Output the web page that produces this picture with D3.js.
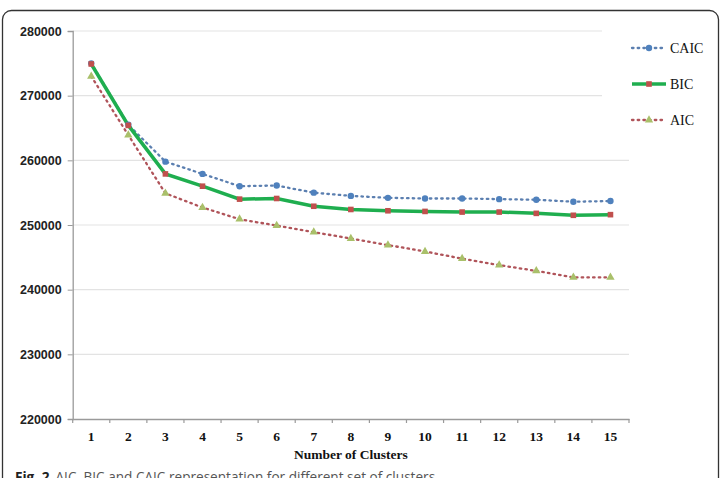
<!DOCTYPE html>
<html><head><meta charset="utf-8">
<script src="https://cdn.jsdelivr.net/npm/d3@7"></script>
<style>html,body{margin:0;padding:0;background:#fff;overflow:hidden}</style>
</head><body>
<svg id="c" width="721" height="478"></svg>
<script>
const clusters = [1,2,3,4,5,6,7,8,9,10,11,12,13,14,15];
const caic = [275000,265500,259800,257900,256000,256100,255000,254500,254200,254100,254100,254000,253900,253600,253700];
const bic  = [274900,265400,257900,256000,254000,254100,252900,252400,252200,252100,252000,252000,251800,251500,251600];
const aic  = [273000,263900,254900,252700,250900,249900,248900,247900,246900,245900,244800,243800,242900,241900,241900];
const yTicks = [220000,230000,240000,250000,260000,270000,280000];
const seriesNames = ["CAIC","BIC","AIC"];

(function(){
const svg = d3.select("#c");
// frame
svg.append("rect").attr("x",2.5).attr("y",10.5).attr("width",716).attr("height",490)
  .attr("rx",9).attr("fill","#fff").attr("stroke","#333").attr("stroke-width",1.3);

const pL = 72.7, pR = 629, pT = 31, pB = 419;
const x = d3.scaleBand().domain(clusters).range([pL,pR]);
const y = d3.scaleLinear().domain([220000,280000]).range([pB,pT]);
const cx = d => x(d) + x.bandwidth()/2;

// gridlines
svg.append("g").selectAll("line").data(yTicks.slice(1)).join("line")
  .attr("x1",pL).attr("x2",pR).attr("y1",d=>y(d)).attr("y2",d=>y(d))
  .attr("stroke","#e3e3e3").attr("stroke-width",1.2);

// y axis
const yAxis = svg.append("g").attr("transform",`translate(${pL},0)`)
  .call(d3.axisLeft(y).tickValues(yTicks).tickSize(5).tickPadding(6).tickFormat(d3.format("d")));
yAxis.select(".domain").attr("stroke","#9a9a9a").attr("stroke-width",1.3);
yAxis.selectAll(".tick line").attr("stroke","#9a9a9a");
yAxis.selectAll("text").attr("font-family","Liberation Sans").attr("font-weight","bold")
  .attr("font-size",12.5).attr("fill","#222");

// x axis
const xAxis = svg.append("g").attr("transform",`translate(0,${pB})`)
  .call(d3.axisBottom(x).tickSize(0).tickPadding(12));
xAxis.select(".domain").attr("stroke","#9a9a9a").attr("stroke-width",1.3);
xAxis.selectAll("text").attr("font-family","Liberation Serif").attr("font-weight","bold")
  .attr("font-size",13.5).attr("fill","#111");
const bounds = clusters.map(d=>x(d)).concat([pR]);
xAxis.selectAll("line.bt").data(bounds).join("line").attr("class","bt")
  .attr("x1",d=>d).attr("x2",d=>d)
  .attr("y1",0).attr("y2",4).attr("stroke","#9a9a9a").attr("stroke-width",1.2);

svg.append("text").attr("x",(pL+pR)/2).attr("y",459).attr("text-anchor","middle")
  .attr("font-family","Liberation Serif").attr("font-weight","bold").attr("font-size",13.5)
  .attr("fill","#111").text("Number of Clusters");

const line = d3.line().x((d,i)=>cx(clusters[i])).y(d=>y(d));

svg.append("path").datum(aic).attr("d",line).attr("fill","none")
  .attr("stroke","#b0545a").attr("stroke-width",2.3).attr("stroke-dasharray","1.5 4.2").attr("stroke-linecap","round");
svg.append("path").datum(caic).attr("d",line).attr("fill","none")
  .attr("stroke","#5b7fb0").attr("stroke-width",2.3).attr("stroke-dasharray","1.5 4.2").attr("stroke-linecap","round");
svg.append("path").datum(bic).attr("d",line).attr("fill","none")
  .attr("stroke","#1fae4f").attr("stroke-width",3.5);

const tri = d3.symbol().type(d3.symbolTriangle).size(30);
svg.selectAll("path.aicm").data(aic).join("path").attr("class","aicm")
  .attr("d",tri).attr("transform",(d,i)=>`translate(${cx(clusters[i])},${y(d)})`)
  .attr("fill","#a9c06a");
svg.selectAll("circle.caicm").data(caic).join("circle").attr("class","caicm")
  .attr("cx",(d,i)=>cx(clusters[i])).attr("cy",d=>y(d)).attr("r",3.2).attr("fill","#4f81bd");
svg.selectAll("rect.bicm").data(bic).join("rect").attr("class","bicm")
  .attr("x",(d,i)=>cx(clusters[i])-2.8).attr("y",d=>y(d)-2.8).attr("width",5.6).attr("height",5.6)
  .attr("fill","#c0504d");

// legend
const lg = svg.append("g");
lg.append("rect").attr("x",602).attr("y",24).attr("width",112).attr("height",115).attr("fill","#fff");
const ly = [48,84,120];
const lx1 = 632, lx2 = 666, lm = 649;
lg.append("line").attr("x1",lx1).attr("x2",lx2).attr("y1",ly[0]).attr("y2",ly[0])
  .attr("stroke","#5b7fb0").attr("stroke-width",2.3).attr("stroke-dasharray","1.5 4.2").attr("stroke-linecap","round");
lg.append("circle").attr("cx",lm).attr("cy",ly[0]).attr("r",3.2).attr("fill","#4f81bd");
lg.append("line").attr("x1",lx1).attr("x2",lx2).attr("y1",ly[1]).attr("y2",ly[1])
  .attr("stroke","#1fae4f").attr("stroke-width",3.5);
lg.append("rect").attr("x",lm-2.8).attr("y",ly[1]-2.8).attr("width",5.6).attr("height",5.6).attr("fill","#c0504d");
lg.append("line").attr("x1",lx1).attr("x2",lx2).attr("y1",ly[2]).attr("y2",ly[2])
  .attr("stroke","#b0545a").attr("stroke-width",2.3).attr("stroke-dasharray","1.5 4.2").attr("stroke-linecap","round");
lg.append("path").attr("d",tri).attr("transform",`translate(${lm},${ly[2]})`).attr("fill","#a9c06a");
lg.selectAll("text").data(seriesNames).join("text")
  .attr("x",670).attr("y",(d,i)=>ly[i]+4.5).attr("font-family","Liberation Serif")
  .attr("font-size",14).attr("fill","#111").text(d=>d);

// caption
const cap = svg.append("text").attr("x",15).attr("y",482).attr("font-family","Open Sans").attr("font-size",13.6).attr("fill","#555");
cap.append("tspan").attr("font-weight","bold").attr("fill","#222").text("Fig. 2");
cap.append("tspan").attr("dx",6).text("AIC, BIC and CAIC representation for different set of clusters");
})();
</script>
</body></html>
